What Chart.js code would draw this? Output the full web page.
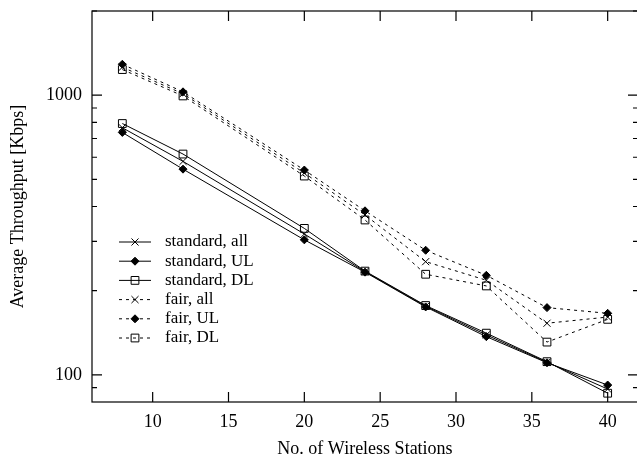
<!DOCTYPE html>
<html><head><meta charset="utf-8">
<script src="https://cdn.jsdelivr.net/npm/chart.js@4/dist/chart.umd.min.js"></script>
<style>html,body{margin:0;padding:0;overflow:hidden;background:#fff;width:637px;height:460px}canvas{display:block}</style>
</head><body>
<canvas id="c" width="640" height="460"></canvas>
<script>
const stations = [8, 12, 20, 24, 28, 32, 36, 40];
const standardAll = [765, 580, 319, 234, 176, 139, 111, 89];
const standardUL = [736, 544, 304, 233, 175, 137, 110.5, 92];
const standardDL = [792, 616, 334, 235, 177, 141, 111.5, 86];
const fairAll = [1259, 1012, 527, 373, 254, 218, 153, 161];
const fairUL = [1290, 1028, 540, 386, 279, 227, 174, 166];
const fairDL = [1235, 994, 514, 358, 229, 208, 131, 158];
const seriesNames = ['standard, all', 'standard, UL', 'standard, DL', 'fair, all', 'fair, UL', 'fair, DL'];
const xTicks = [10, 15, 20, 25, 30, 35, 40];
const yLabelTicks = [100, 1000];
const yMinorTicks = [90, 200, 300, 400, 500, 600, 700, 800, 900, 2000];

const FONT = {family: "'Liberation Serif', 'Times New Roman', serif", size: 18, lineHeight: 1.2};
const seriesValues = [standardAll, standardUL, standardDL, fairAll, fairUL, fairDL];
const styles = ['crossRot', 'rectRot', 'rect', 'crossRot', 'rectRot', 'rect'];
const radii = [5, 4, 5.5, 5, 4, 5.5];
const fills = ['rgba(0,0,0,0)', '#000', 'rgba(0,0,0,0)', 'rgba(0,0,0,0)', '#000', 'rgba(0,0,0,0)'];

const datasets = seriesValues.map((vals, i) => ({
  label: seriesNames[i],
  data: stations.map((s, j) => ({x: s, y: vals[j]})),
  borderColor: '#000',
  borderWidth: 1,
  borderDash: i >= 3 ? [3, 4] : [],
  pointStyle: styles[i],
  pointRadius: radii[i],
  pointBorderWidth: 1,
  pointBorderColor: '#000',
  pointBackgroundColor: fills[i],
  tension: 0,
  fill: false
}));

const framePlugin = {
  id: 'frame',
  beforeDatasetsDraw(chart) {
    const {ctx, chartArea: a, scales: {x, y}} = chart;
    ctx.save();
    ctx.strokeStyle = '#000';
    ctx.lineWidth = 1.2;
    ctx.strokeRect(a.left, a.top, a.right - a.left, a.bottom - a.top);
    ctx.beginPath();
    xTicks.forEach(v => {
      const px = x.getPixelForValue(v);
      ctx.moveTo(px, a.bottom); ctx.lineTo(px, a.bottom - 10);
      ctx.moveTo(px, a.top); ctx.lineTo(px, a.top + 10);
    });
    yLabelTicks.forEach(v => {
      const py = y.getPixelForValue(v);
      ctx.moveTo(a.left, py); ctx.lineTo(a.left + 10, py);
      ctx.moveTo(a.right, py); ctx.lineTo(a.right - 10, py);
    });
    yMinorTicks.forEach(v => {
      const py = y.getPixelForValue(v);
      ctx.moveTo(a.left, py); ctx.lineTo(a.left + 5, py);
      ctx.moveTo(a.right, py); ctx.lineTo(a.right - 5, py);
    });
    ctx.stroke();
    ctx.restore();
  }
};

const legendPlugin = {
  id: 'customLegend',
  afterDatasetsDraw(chart) {
    const ctx = chart.ctx;
    ctx.save();
    chart.data.datasets.forEach((ds, i) => {
      const yy = 242 + i * 19.2;
      ctx.strokeStyle = '#000';
      ctx.lineWidth = 1;
      ctx.setLineDash(ds.borderDash);
      ctx.beginPath();
      ctx.moveTo(119, yy); ctx.lineTo(151, yy);
      ctx.stroke();
      ctx.setLineDash([]);
      ctx.fillStyle = ds.pointBackgroundColor;
      ctx.strokeStyle = '#000';
      Chart.helpers.drawPoint(ctx, {pointStyle: ds.pointStyle, rotation: 0, radius: ds.pointRadius, borderWidth: 1}, 135, yy);
      ctx.fillStyle = '#000';
      ctx.font = "17px 'Liberation Serif', serif";
      ctx.textBaseline = 'middle';
      ctx.textAlign = 'left';
      ctx.fillText(ds.label, 165, yy);
    });
    ctx.restore();
  }
};

new Chart(document.getElementById('c'), {
  type: 'line',
  data: {datasets},
  options: {
    responsive: false,
    animation: false,
    layout: {autoPadding: false, padding: {top: 11, right: 2, left: 0, bottom: 0}},
    plugins: {legend: {display: false}, tooltip: {enabled: false}},
    scales: {
      x: {
        type: 'linear', min: 6, max: 42,
        afterBuildTicks: s => { s.ticks = xTicks.map(v => ({value: v})); },
        afterFit: s => { s.height = 58; s.paddingLeft = 0; s.paddingRight = 0; },
        grid: {display: false, drawTicks: false},
        border: {display: false},
        ticks: {padding: 9, font: FONT, color: '#000', maxRotation: 0, autoSkip: false},
        title: {display: true, text: 'No. of Wireless Stations', font: FONT, color: '#000', padding: {top: 0, bottom: 0}}
      },
      y: {
        type: 'logarithmic', min: 80, max: 2000,
        afterBuildTicks: s => { s.ticks = yLabelTicks.map(v => ({value: v})); },
        afterFit: s => { s.width = 92; s.paddingTop = 0; s.paddingBottom = 0; },
        grid: {display: false, drawTicks: false},
        border: {display: false},
        ticks: {padding: 10, font: FONT, color: '#000', callback: v => String(v), autoSkip: false},
        title: {display: true, text: 'Average Throughput [Kbps]', font: FONT, color: '#000', padding: {top: 7, bottom: 0}}
      }
    }
  },
  plugins: [framePlugin, legendPlugin]
});
</script>
</body></html>
